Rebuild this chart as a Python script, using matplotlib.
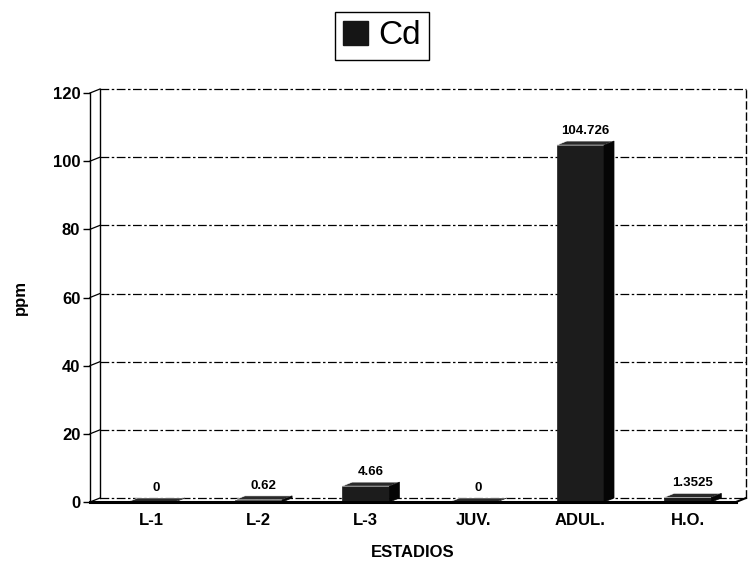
import matplotlib
matplotlib.use("Agg")
import matplotlib.pyplot as plt
from matplotlib.patches import Polygon, Patch

# Cadmium concentration by development stage
categories = ["L-1", "L-2", "L-3", "JUV.", "ADUL.", "H.O."]
cd_ppm = [0, 0.62, 4.66, 0, 104.726, 1.3525]
value_labels = ["0", "0.62", "4.66", "0", "104.726", "1.3525"]
y_ticks = [0, 20, 40, 60, 80, 100, 120]
series_name = "Cd"
x_title = "ESTADIOS"
y_title = "ppm"

plt.rcParams["font.family"] = ["Liberation Sans", "DejaVu Sans"]

W, H = 751, 574
fig = plt.figure(figsize=(W / 100, H / 100), dpi=100)

# front plane of the chart, in pixels
px_left, px_right, px_bottom, px_top = 90, 736, 502, 93
ax = fig.add_axes([px_left / W, 1 - px_bottom / H,
                   (px_right - px_left) / W, (px_bottom - px_top) / H])
xmin, xmax = -0.57, 5.45
ymin, ymax = 0, 120
ax.set_xlim(xmin, xmax)
ax.set_ylim(ymin, ymax)

# depth of the pseudo 3-D effect, pixels -> data units
depth_x = 10 * (xmax - xmin) / (px_right - px_left)
depth_y = 4 * (ymax - ymin) / (px_bottom - px_top)

ink = "black"
grid_dash = (0, (7, 2, 2, 2))

# back wall: gridlines, edges, and connectors to the front axis
for t in y_ticks:
    ax.plot([xmin + depth_x, xmax + depth_x], [t + depth_y] * 2,
            color=ink, lw=0.9, linestyle=grid_dash, clip_on=False, zorder=1)
    ax.plot([xmin, xmin + depth_x], [t, t + depth_y],
            color=ink, lw=0.9, clip_on=False, zorder=1)
ax.plot([xmin + depth_x] * 2, [depth_y, ymax + depth_y],
        color=ink, lw=1.0, clip_on=False, zorder=1)
ax.plot([xmax + depth_x] * 2, [depth_y, ymax + depth_y],
        color=ink, lw=1.0, linestyle=(0, (6, 2)), clip_on=False, zorder=1)
ax.plot([xmax, xmax + depth_x], [0, depth_y],
        color=ink, lw=1.5, clip_on=False, zorder=1)

# bars drawn as prisms: front face, top face, right side face
bar_w = 0.44
front_col, top_col, side_col = "#1c1c1c", "#2a2a2a", "#050505"
for i, v in enumerate(cd_ppm):
    x0, x1 = i - bar_w / 2, i + bar_w / 2
    ax.bar(i, v, width=bar_w, color=front_col, edgecolor=front_col,
           lw=0.5, zorder=3)
    top = [(x0, v), (x1, v), (x1 + depth_x, v + depth_y), (x0 + depth_x, v + depth_y)]
    side = [(x1, 0), (x1 + depth_x, depth_y), (x1 + depth_x, v + depth_y), (x1, v)]
    ax.add_patch(Polygon(top, closed=True, facecolor=top_col,
                         edgecolor="white", lw=0.4, zorder=3))
    ax.add_patch(Polygon(side, closed=True, facecolor=side_col,
                         edgecolor=side_col, lw=0.5, zorder=3))
    ax.annotate(value_labels[i], (i + depth_x / 2, v + depth_y),
                xytext=(0, 3), textcoords="offset points",
                ha="center", va="bottom", fontsize=9.5, fontweight="bold")

# axes frame: front vertical axis and floor edge
for s in ("top", "right"):
    ax.spines[s].set_visible(False)
ax.spines["left"].set_linewidth(1.0)
ax.spines["bottom"].set_linewidth(2.2)
ax.spines["bottom"].set_zorder(4)

ax.set_yticks(y_ticks)
ax.set_yticklabels([str(t) for t in y_ticks], fontsize=12, fontweight="bold")
ax.tick_params(axis="y", length=5, width=1.0, pad=2)
ax.set_xticks(range(len(categories)))
ax.set_xticklabels(categories, fontsize=12, fontweight="bold")
ax.tick_params(axis="x", length=0, pad=8)

ax.set_xlabel(x_title, fontsize=12, fontweight="bold", labelpad=12)
ax.set_ylabel(y_title, fontsize=12, fontweight="bold", labelpad=18)

# legend box at the top
fig.legend(handles=[Patch(facecolor="#151515", edgecolor="#151515")],
           labels=[series_name], loc="center",
           bbox_to_anchor=(382 / W, 1 - 36 / H), fontsize=24,
           frameon=True, fancybox=False, edgecolor=ink, framealpha=1,
           handlelength=0.75, handleheight=0.75, handletextpad=0.3,
           borderpad=0.25, borderaxespad=0)

fig.savefig("out.png", dpi=100)
